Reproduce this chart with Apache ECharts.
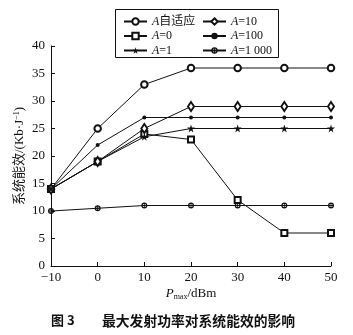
<!DOCTYPE html>
<html><head><meta charset="utf-8">
<script src="https://cdn.jsdelivr.net/npm/echarts@6/dist/echarts.min.js"></script>
<style>html,body{margin:0;padding:0;background:#fff}#c{width:353px;height:335px}</style>
</head><body><div id="c"></div>
<script>
const xValues = [-10, 0, 10, 20, 30, 40, 50];
const seriesNames = ['A自适应', 'A=0', 'A=1', 'A=10', 'A=100', 'A=1 000'];
const adaptive = [14, 25, 33, 36, 36, 36, 36];
const a0 = [14, 19, 24, 23, 12, 6, 6];
const a1 = [14, 19, 23.5, 25, 25, 25, 25];
const a10 = [14, 19, 25, 29, 29, 29, 29];
const a100 = [14, 22, 27, 27, 27, 27, 27];
const a1000 = [10, 10.5, 11, 11, 11, 11, 11];
const yTicks = [0, 5, 10, 15, 20, 25, 30, 35, 40];

const FONT = '"Liberation Serif", "Noto Sans CJK SC", serif';
const crossCircle = 'path://M50,0A50,50 0 1,1 49.9,0Z M50,20A30,30 0 1,0 50.1,20Z M43,8H57V92H43Z M8,43H92V57H8Z';
const markers = [
  {symbol: 'emptyCircle', size: 6.5},
  {symbol: 'emptyRect', size: 6},
  {symbol: 'path://M50,0L61,35H98L68,57L79,92L50,70L21,92L32,57L2,35H39Z', size: 8},
  {symbol: 'emptyDiamond', size: [6, 9]},
  {symbol: 'circle', size: 4},
  {symbol: crossCircle, size: 6}
];
const datasets = [adaptive, a0, a1, a10, a100, a1000];

const chart = echarts.init(document.getElementById('c'), null, {renderer: 'canvas'});
const rich = {i: {fontStyle: 'italic', fontFamily: FONT, fontSize: 12, color: '#111', lineHeight: 13}, t: {fontFamily: FONT, fontSize: 12, color: '#111', lineHeight: 13}};
function fmt(n) { return '{i|A}{t|' + n.slice(1) + '}'; }
const legendCommon = {
  orient: 'vertical', itemWidth: 23, itemHeight: 8, itemGap: 1.5, padding: 0,
  textStyle: {rich: rich, fontFamily: FONT, fontSize: 12, color: '#111', lineHeight: 13},
  formatter: fmt, inactiveColor: '#111', selectedMode: false
};
chart.setOption({
  animation: false,
  backgroundColor: '#fff',
  grid: {left: 51, right: 22, top: 46, bottom: 69},
  legend: [
    Object.assign({left: 123, top: 15, data: seriesNames.slice(0, 3)}, legendCommon),
    Object.assign({left: 202, top: 15, data: seriesNames.slice(3)}, legendCommon)
  ],
  xAxis: {
    type: 'value', min: -10, max: 50, interval: 10,
    axisLine: {onZero: false, lineStyle: {color: '#111', width: 1}},
    axisTick: {inside: true, length: 4, lineStyle: {color: '#111'}},
    splitLine: {show: false},
    axisLabel: {color: '#111', fontFamily: FONT, fontSize: 13, margin: 5,
      formatter: v => v < 0 ? '−' + Math.abs(v) : String(v)},
    name: '{i|P}{s|max}{t|/dBm}', nameLocation: 'middle', nameGap: 21, nameMoveOverlap: false,
    nameTextStyle: {verticalAlign: 'top', rich: {
      i: {fontStyle: 'italic', fontFamily: FONT, fontSize: 13, color: '#111'},
      s: {fontFamily: FONT, fontSize: 8, color: '#111', verticalAlign: 'bottom', padding: [6, 0, 0, 0]},
      t: {fontFamily: FONT, fontSize: 13, color: '#111'}
    }}
  },
  yAxis: {
    type: 'value', min: 0, max: 40, interval: 5,
    axisLine: {show: true, onZero: false, lineStyle: {color: '#111', width: 1}},
    axisTick: {show: true, inside: true, length: 4, lineStyle: {color: '#111'}},
    splitLine: {show: false},
    axisLabel: {color: '#111', fontFamily: FONT, fontSize: 13, margin: 6,
      formatter: v => yTicks.includes(v) ? String(v) : ''},
    name: '{t|系统能效/(Kb·J}{s|−1}{t|)}', nameLocation: 'middle', nameGap: 24, nameMoveOverlap: false,
    nameTextStyle: {rich: {
      t: {fontFamily: FONT, fontSize: 13, color: '#111'},
      s: {fontFamily: FONT, fontSize: 8, color: '#111', verticalAlign: 'top', padding: [0, 0, 6, 0]}
    }}
  },
  series: datasets.map((d, k) => ({
    name: seriesNames[k], type: 'line',
    data: d.map((v, j) => [xValues[j], v]),
    symbol: markers[k].symbol, symbolSize: markers[k].size,
    lineStyle: {color: '#111', width: 1},
    itemStyle: {color: '#111', borderWidth: 1},
    showAllSymbol: true
  })),
  graphic: [
    {type: 'rect', shape: {x: 115.5, y: 9.5, width: 163, height: 48}, style: {fill: 'none', stroke: '#111', lineWidth: 1}, z: 100},
    {type: 'text', left: 51, top: 314, style: {
      text: '图 3', fontFamily: '"Noto Sans CJK SC", sans-serif', fontWeight: 'bold', fontSize: 13, fill: '#111'}},
    {type: 'text', left: 102, top: 314, style: {
      text: '最大发射功率对系统能效的影响', fontFamily: '"Noto Sans CJK SC", sans-serif', fontWeight: 'bold', fontSize: 13.8, fill: '#111'}}
  ]
});
</script></body></html>
